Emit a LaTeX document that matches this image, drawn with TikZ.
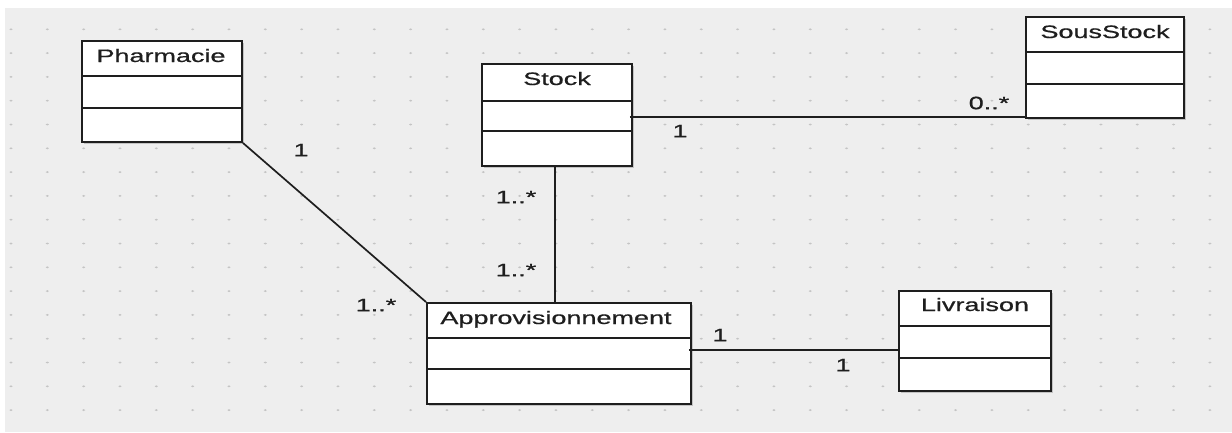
\documentclass[tikz,border=0pt]{standalone}
\usepackage{fontspec}
\usepackage{graphicx}
\setmainfont{Liberation Sans}
\newfontfamily\umlfont{Liberation Sans}[FakeBold=0.6]
\usetikzlibrary{shadows}
\definecolor{bgray}{HTML}{EEEEEE}
\definecolor{dotgray}{HTML}{C4C4C4}
\definecolor{ink}{HTML}{1E1E1E}
\newcommand\stretchtxt[1]{\scalebox{1.5}[1]{\umlfont\fontsize{18}{20}\selectfont #1}}
\tikzset{
  classbox/.style={draw=ink, line width=1.9pt, fill=white, inner sep=0pt,
    general shadow={fill=black, opacity=0.18, shadow xshift=2pt, shadow yshift=-2pt}},
  divider/.style={draw=ink, line width=1.7pt},
  title/.style={anchor=base, inner sep=0pt, text=ink},
  conn/.style={draw=ink, line width=1.7pt},
  mult/.style={inner sep=0pt, text=ink},
}
\begin{document}
\begin{tikzpicture}[x=1pt, y=-1pt]
\useasboundingbox (0,0) rectangle (1232,432);
\fill[bgray] (5,8) rectangle (1232,432);
\foreach \i in {0,...,33} {
  \foreach \j in {0,...,16} {
    \fill[dotgray] (11+36.33*\i, 29.3+23.8*\j) ellipse [x radius=1.6pt, y radius=1pt];
  }
}
% classes
\node[classbox, minimum width=160pt, minimum height=101pt] (pharm) at (162,91.5) {};
\node[classbox, minimum width=150pt, minimum height=102pt] (stock) at (557,115) {};
\node[classbox, minimum width=158pt, minimum height=101pt] (sous) at (1105,67.5) {};
\node[classbox, minimum width=264pt, minimum height=101pt] (appro) at (559,353.5) {};
\node[classbox, minimum width=152pt, minimum height=100pt] (livr) at (975,341) {};
% dividers
\draw[divider] (pharm.west |- 0,76) -- (pharm.east |- 0,76);
\draw[divider] (pharm.west |- 0,108) -- (pharm.east |- 0,108);
\draw[divider] (stock.west |- 0,101) -- (stock.east |- 0,101);
\draw[divider] (stock.west |- 0,131) -- (stock.east |- 0,131);
\draw[divider] (sous.west |- 0,52) -- (sous.east |- 0,52);
\draw[divider] (sous.west |- 0,84) -- (sous.east |- 0,84);
\draw[divider] (appro.west |- 0,338) -- (appro.east |- 0,338);
\draw[divider] (appro.west |- 0,369) -- (appro.east |- 0,369);
\draw[divider] (livr.west |- 0,326) -- (livr.east |- 0,326);
\draw[divider] (livr.west |- 0,358) -- (livr.east |- 0,358);
% titles
\node[title] (pharmT) at (161,62) {\stretchtxt{Pharmacie}};
\node[title] (stockT) at (557,85) {\stretchtxt{Stock}};
\node[title] (sousT) at (1105,38) {\stretchtxt{SousStock}};
\node[title] (approT) at (556,324) {\stretchtxt{Approvisionnement}};
\node[title] (livrT) at (975,311) {\stretchtxt{Livraison}};
% connectors
\draw[conn] (pharm.south east) -- (appro.north west);
\draw[conn] ([xshift=-2pt]stock.south) -- ([xshift=-2pt]stock.south |- appro.north);
\coordinate (ssA) at ([yshift=2pt]sous.south west);
\draw[conn] ([xshift=-3pt]stock.east |- ssA) -- (ssA);
\coordinate (alA) at (livr.west |- 0,350);
\draw[conn] ([xshift=-3pt]appro.east |- alA) -- (alA);
% multiplicities
\node[mult] (m1) at (301,150) {\stretchtxt{1}};
\node[mult] (m2) at (376,305) {\stretchtxt{1..*}};
\node[mult] (m3) at (516,197) {\stretchtxt{1..*}};
\node[mult] (m4) at (516,270) {\stretchtxt{1..*}};
\node[mult] (m5) at (680,131) {\stretchtxt{1}};
\node[mult] (m6) at (989,103) {\stretchtxt{0..*}};
\node[mult] (m7) at (720,335) {\stretchtxt{1}};
\node[mult] (m8) at (843,365) {\stretchtxt{1}};
\end{tikzpicture}
\end{document}
